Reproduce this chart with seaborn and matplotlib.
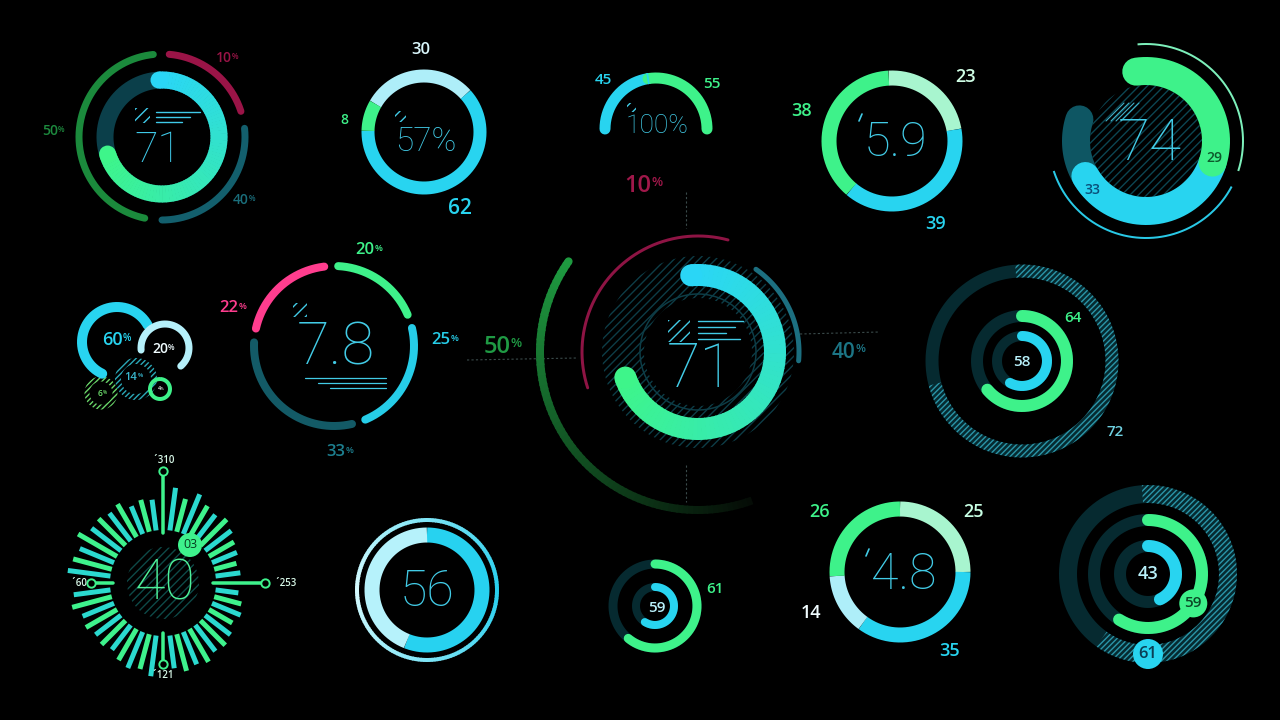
import numpy as np
import seaborn as sns
import matplotlib.pyplot as plt
from matplotlib.patches import Wedge, Circle, Rectangle

# ---- valores ----
anel71_valor = 71
anel71_ext = ["10", "40", "50"]          # magenta, teal, verde
anel71_ext_graus = [67, 96, 162]         # comprimento visível de cada arco externo
anel57 = [30, 62, 8]                     # claro, ciano, verde
anel57_txt = "57%"
meia_lua = [45, 55]                      # ciano, verde
anel59 = [23, 39, 38]                    # menta, ciano, verde
anel59_txt = "5.9"
anel74 = [29, 33, 12]                    # verde, ciano, teal
anel74_txt = "74"
grupo_txt = ["60", "20", "14", "6", "4"]
grupo_arco = [60, 65]                    # preenchimento dos dois arcos maiores (%)
anel78 = [20, 25, 33, 22]                # verde, ciano, teal, rosa
anel78_txt = "7.8"
central_valor = 71
central_txt = ["10", "50", "40"]         # magenta, verde, teal
central_graus = [123, 145, 60]           # comprimento dos arcos magenta, verde, teal
triplo_a = [58, 64, 72]                  # interno, meio, externo
raio_valor = "40"
raio_badge = "03"
raio_picos = [310, 253, 121, 60]         # topo, direita, baixo, esquerda
raio_comp = [96, 87, 96, 89, 86, 90, 86, 82, 80, 76, 78,
             76, 81, 84, 80, 85, 88, 86, 91, 88, 91, 86,
             94, 89, 92, 89, 84, 87, 85, 89, 87, 94, 90,
             96, 93, 90, 98, 90, 91, 88, 91, 83, 86, 84]
anel56 = 56
duplo = [59, 61]                         # interno, externo
anel48 = [25, 35, 14, 26]                # menta, ciano, claro, verde
anel48_txt = "4.8"
triplo_b = [43, 59, 61]                  # interno, meio, externo

# ---- estilo ----
CIANO = "#28d4f0"
VERDE = "#3ef28a"
MENTA = "#a8f5cf"
CLARO = "#aeeef9"
FUNDO = "#062a30"
TXT = "#42cbe6"
FINA = "Roboto"
ROT = "Open Sans"
PX = 0.72  # pontos por pixel com dpi 100

sns.set_theme(style="dark", rc={"figure.facecolor": "black", "axes.facecolor": "black",
                                 "hatch.linewidth": 1.0})
plt.rcParams["font.family"] = ["Open Sans", "DejaVu Sans"]

fig = plt.figure(figsize=(12.8, 7.2), dpi=100)
ax = fig.add_axes([0, 0, 1, 1])
ax.set_xlim(0, 1280)
ax.set_ylim(720, 0)
ax.axis("off")


def ponto(cx, cy, r, a):
    t = np.radians(a)
    return cx + r * np.sin(t), cy - r * np.cos(t)


def arco(cx, cy, r, a0, a1, cor, w, cap="round", z=2):
    n = max(int(abs(a1 - a0)) * 2, 4)
    x, y = ponto(cx, cy, r, np.linspace(a0, a1, n))
    ax.plot(x, y, color=cor, lw=w * PX, solid_capstyle=cap, zorder=z)


def arco_grad(cx, cy, r, a0, a1, c0, c1, w, n=80, pontas=True, z=2):
    cores = sns.blend_palette([c0, c1], n)
    bordas = np.linspace(a0, a1, n + 1)
    for i in range(n):
        arco(cx, cy, r, bordas[i], min(bordas[i + 1] + 0.6, a1), cores[i], w, cap="butt", z=z)
    if pontas:
        for a, c in ((a0, cores[0]), (a1, cores[-1])):
            ax.add_patch(Circle(ponto(cx, cy, r, a), w / 2, color=c, lw=0, zorder=z))


def arco_hach(cx, cy, r, a0, a1, cor, w, hatch="//////", z=1):
    ax.add_patch(Wedge((cx, cy), r + w / 2, a0 - 90, a1 - 90, width=w, facecolor="none",
                       edgecolor=cor, lw=0, hatch=hatch, zorder=z))


def segmentos(vals, inicio, total=360, gap=0):
    v = np.asarray(vals, float)
    larg = (total - gap * len(v)) * v / v.sum()
    ini = inicio + np.concatenate([[0], np.cumsum(larg + gap)[:-1]])
    return list(zip(ini, ini + larg))


def rotulo(x, y, s, cor, tam, pct=False, peso="semibold", z=6):
    t = ax.text(x, y, s, color=cor, fontsize=tam, ha="center", va="center",
                family=ROT, weight=peso, zorder=z)
    if pct:
        ax.annotate("%", xy=(1.0, 0.9), xycoords=t, color=cor, fontsize=tam * 0.55,
                    ha="left", va="top", family=ROT, weight=peso, zorder=z)
    return t


def numero(x, y, s, cor, tam):
    return ax.text(x, y, s, color=cor, fontsize=tam, ha="center", va="center",
                   family=FINA, weight="light", zorder=6)


def icone(x, y, s, cor, linhas=()):
    ax.add_patch(Rectangle((x, y), s, s, facecolor="none", edgecolor=cor, lw=0,
                           hatch="///", zorder=4))
    for x0, x1, yy in linhas:
        ax.plot([x0, x1], [yy, yy], color=cor, lw=1.0, zorder=4)


# ---- 1: anel 71 (superior esquerdo) ----
cx, cy = 162, 137
arco(cx, cy, 57, 0, 360, "#0b3f4a", 17, cap="butt", z=1)
arco_grad(cx, cy, 57, -3, -3 + 3.6 * anel71_valor, "#2ad6f6", "#3ef58a", 17)
cores = ["#9a1447", "#135f6d", "#1b8a3c"]
a = 5
for g, c in zip(anel71_ext_graus, cores):
    arco(cx, cy, 83, a, a + g, c, 7)
    a += g + 12
rotulo(224, 58, anel71_ext[0], "#9a1447", 10, pct=True)
rotulo(241, 200, anel71_ext[1], "#1a6e7b", 10, pct=True)
rotulo(50, 131, anel71_ext[2], "#1d8a3e", 10, pct=True)
icone(135, 108, 15, "#3fc9e8", [(156, 200, 112), (156, 190, 117), (156, 182, 122)])
numero(158, 150, str(anel71_valor), "#3fc9e8", 31)

# ---- 2: anel 57% ----
cx, cy = 424, 132
for (a0, a1), c in zip(segmentos(anel57, -60), [CLARO, CIANO, VERDE]):
    arco(cx, cy, 56, a0, a1, c, 13, cap="butt")
rotulo(421, 50, str(anel57[0]), "#d9f6fb", 12)
rotulo(460, 209, str(anel57[1]), CIANO, 15)
rotulo(344, 120, str(anel57[2]), VERDE, 10)
icone(395, 111, 11, TXT)
numero(426, 142, anel57_txt, TXT, 24)

# ---- 3: meia lua 100% ----
cx, cy = 656, 129
segs = segmentos(meia_lua, -90, total=180)
arco(cx, cy, 51, segs[0][0], segs[0][1], CIANO, 11)
arco(cx, cy, 51, segs[1][0], segs[1][1], VERDE, 11)
arco(cx, cy, 51, segs[0][1] - 1, segs[0][1] + 1, CIANO, 11, cap="butt")
rotulo(603, 80, str(meia_lua[0]), CIANO, 11)
rotulo(712, 84, str(meia_lua[1]), VERDE, 11)
icone(627, 103, 9, TXT)
numero(657, 126, "100%", TXT, 19)

# ---- 4: anel 5.9 ----
cx, cy = 892, 141
for (a0, a1), c in zip(segmentos(anel59, -3), [MENTA, CIANO, VERDE]):
    arco(cx, cy, 63, a0, a1, c, 15, cap="butt")
rotulo(966, 77, str(anel59[0]), "#d0ffe6", 13)
rotulo(936, 224, str(anel59[1]), CIANO, 13)
rotulo(802, 111, str(anel59[2]), VERDE, 13)
ax.plot([859, 862], [121, 114], color=TXT, lw=1.2, zorder=6)
numero(896, 143, anel59_txt, TXT, 35)

# ---- 5: anel 74 ----
cx, cy = 1146, 141
ax.add_patch(Circle((cx, cy), 56, facecolor="none", edgecolor="#0c4652", lw=0,
                    hatch="////", zorder=1))
segs = segmentos(anel74, -8, total=4 * sum(anel74))
arco(cx, cy, 70, segs[2][0] - 10, segs[2][1], "#0e5663", 28)
arco(cx, cy, 70, segs[1][0], segs[1][1], CIANO, 28)
arco(cx, cy, 70, segs[0][0], segs[0][1], VERDE, 28)
arco(cx, cy, 97, -5, 108, "#7df0bb", 2, cap="butt")
arco(cx, cy, 97, 118, 252, "#29c9e6", 2, cap="butt")
for k in range(4):
    ax.plot([1106 + 5 * k, 1124 + 5 * k], [121, 103], color="#3fb0c8", lw=0.8, zorder=3)
rotulo(1214, 158, str(anel74[0]), "#0d5a2c", 10)
rotulo(1092, 190, str(anel74[1]), "#0a4f7a", 10)
numero(1150, 145, anel74_txt, TXT, 42)

# ---- 6: grupo de aneis pequenos ----
arco(117, 342, 35, 205, 205 + 3.6 * grupo_arco[0], CIANO, 10)
rotulo(112, 340, grupo_txt[0], CIANO, 13, pct=True)
arco(165, 348, 24, 265, 265 + 3.6 * grupo_arco[1], "#b5f0fa", 7)
rotulo(160, 349, grupo_txt[1], "#f0fcff", 10, pct=True)
arco_hach(136, 379, 18, 0, 360, "#2aa8b8", 6, hatch="//////")
rotulo(131, 377, grupo_txt[2], "#39b9d0", 8, pct=True)
arco_hach(101, 393, 14, 0, 360, "#6ad66a", 5, hatch="//////")
rotulo(100, 394, grupo_txt[3], "#6ee06e", 6, pct=True)
arco(160, 389, 10, 0, 360, VERDE, 4, cap="butt")
rotulo(159, 389, grupo_txt[4], "#f0fff4", 4, pct=True)

# ---- 7: anel 7.8 ----
cx, cy = 334, 346
cores = [VERDE, "#26cde8", "#135a66", "#ff3d8e"]
for (a0, a1), c in zip(segmentos(anel78, 3, gap=10), cores):
    arco(cx, cy, 80, a0, a1, c, 8)
rotulo(365, 250, str(anel78[0]), VERDE, 12, pct=True)
rotulo(441, 340, str(anel78[1]), "#26cde8", 12, pct=True)
rotulo(336, 452, str(anel78[2]), "#1d7f8f", 12, pct=True)
rotulo(229, 308, str(anel78[3]), "#ff3d8e", 12, pct=True)
icone(293, 303, 14, TXT)
for x0, yy in [(305, 378), (318, 383), (330, 388)]:
    ax.plot([x0, 386], [yy, yy], color=TXT, lw=0.9, zorder=4)
numero(336, 348, anel78_txt, TXT, 43)

# ---- 8: grafico central ----
cx, cy = 698, 352
for xs, ys in [([686, 686], [192, 228]), ([686, 686], [465, 502]),
               ([467, 577], [360, 358]), ([800, 880], [334, 332])]:
    ax.plot(xs, ys, color="#3a4a4a", lw=0.8, ls=(0, (2, 2)), zorder=0)
ax.add_patch(Wedge((cx, cy), 96, 0, 360, width=42, facecolor="none", edgecolor="#0d3d47",
                   lw=0, hatch="////", zorder=1))
arco(cx, cy, 58, 0, 360, "#0d3d47", 1.5, cap="butt", z=1)
arco_grad(cx, cy, 158, 160, 160 + central_graus[1], "#050c06", "#1e9a40", 8, pontas=False)
ax.add_patch(Circle(ponto(cx, cy, 158, 160 + central_graus[1]), 4, color="#1e9a40", lw=0))
arco(cx, cy, 116, 252, 252 + central_graus[0], "#8e1444", 3)
arco(cx, cy, 101, 35, 35 + central_graus[2], "#1c6f80", 5)
arco_grad(cx, cy, 77, -5, -5 + 3.6 * central_valor, "#2ad6f6", "#3ef58a", 22)
rotulo(638, 186, central_txt[0], "#a0184a", 17, pct=True)
rotulo(497, 347, central_txt[1], "#1f9a44", 17, pct=True)
rotulo(844, 352, central_txt[2], "#1c7585", 15, pct=True)
icone(668, 320, 22, TXT, [(698, 743, 321), (698, 735, 327), (698, 726, 333), (698, 740, 339)])
numero(700, 370, str(central_valor), TXT, 44)

# ---- 9: aneis concentricos 58/64/72 ----
cx, cy = 1022, 361
for r, w in [(90, 13), (45, 12), (25, 10)]:
    arco(cx, cy, r, 0, 360, FUNDO, w, cap="butt", z=1)
arco_hach(cx, cy, 90, -4, -4 + 3.6 * triplo_a[2], "#2b95a8", 13)
arco(cx, cy, 45, 0, 3.6 * triplo_a[1], VERDE, 12)
arco(cx, cy, 25, 0, 3.6 * triplo_a[0], CIANO, 10)
rotulo(1073, 318, str(triplo_a[1]), VERDE, 11)
rotulo(1115, 432, str(triplo_a[2]), "#6fd0e0", 11)
rotulo(1022, 362, str(triplo_a[0]), "#b8f0fa", 11)

# ---- 10: explosao radial 40 ----
cx, cy = 163, 583
ax.add_patch(Circle((cx, cy), 36, facecolor="none", edgecolor="#0e4a48", lw=0,
                    hatch="////", zorder=1))
pal = sns.blend_palette(["#3ef28c", "#2bd9cf"], 2)
k = 0
for i in range(48):
    if i % 12 == 0:
        continue
    x, y = ponto(cx, cy, np.array([53, raio_comp[k]]), i * 7.5)
    ax.plot(x, y, color=pal[i % 2], lw=5 * PX, solid_capstyle="butt", zorder=2)
    k += 1
desloc = [11, 20, 11, 13]
for j, v in enumerate(raio_picos):
    a = 90 * j
    r1 = 62 + 0.16 * v
    x, y = ponto(cx, cy, np.array([50, r1]), a)
    ax.plot(x, y, color="#3ef28c", lw=3.5 * PX, zorder=2)
    ax.plot(x[1], y[1], "o", ms=6, mfc="black", mec="#3ef28c", mew=1.4, zorder=3)
    lx, ly = ponto(cx, cy, r1 + desloc[j], a)
    rotulo(lx, ly, "\u00b4" + str(v), "#d8f8e8", 7)
ax.add_patch(Circle((190, 545), 12, color="#3ef28c", lw=0, zorder=4))
rotulo(190, 545, raio_badge, "#063d1e", 9, peso="normal")
numero(165, 584, raio_valor, "#4ef29a", 40)

# ---- 11: anel 56 ----
cx, cy = 427, 590
arco_grad(cx, cy, 70, -90, 90, "#d6fbff", "#27cfee", 4, pontas=False)
arco_grad(cx, cy, 70, 90, 270, "#27cfee", "#d6fbff", 4, pontas=False)
a1 = 3.6 * anel56
arco(cx, cy, 55, 0, a1, "#27d2f0", 15, cap="butt")
arco(cx, cy, 55, a1, 360, "#b6f2fb", 15, cap="butt")
numero(cx, cy + 2, str(anel56), TXT, 36)

# ---- 12: duplo 59/61 ----
cx, cy = 655, 606
arco(cx, cy, 42, 0, 360, FUNDO, 9, cap="butt", z=1)
arco(cx, cy, 19, 0, 360, FUNDO, 8, cap="butt", z=1)
arco(cx, cy, 42, 0, 3.6 * duplo[1], VERDE, 9)
arco(cx, cy, 19, 0, 3.6 * duplo[0], CIANO, 8)
rotulo(715, 589, str(duplo[1]), VERDE, 11)
rotulo(657, 608, str(duplo[0]), "#b8f0fa", 11)

# ---- 13: anel 4.8 ----
cx, cy = 900, 572
for (a0, a1), c in zip(segmentos(anel48, 0), [MENTA, CIANO, CLARO, VERDE]):
    arco(cx, cy, 63, a0, a1, c, 15, cap="butt")
rotulo(973, 512, str(anel48[0]), "#c8ffe4", 13)
rotulo(950, 651, str(anel48[1]), CIANO, 13)
rotulo(811, 613, str(anel48[2]), "#f0fcff", 13)
rotulo(820, 512, str(anel48[3]), VERDE, 13)
ax.plot([866, 869], [556, 549], color=TXT, lw=1.2, zorder=6)
numero(904, 575, anel48_txt, TXT, 36)

# ---- 14: aneis concentricos 43/59/61 ----
cx, cy = 1148, 574
for r, w in [(80, 18), (54, 12), (28, 12)]:
    arco(cx, cy, r, 0, 360, FUNDO, w, cap="butt", z=1)
arco_hach(cx, cy, 80, -4, -4 + 3.6 * triplo_b[2], "#2b95a8", 18)
arco(cx, cy, 54, 0, 3.6 * triplo_b[1], VERDE, 12)
arco(cx, cy, 28, 0, 3.6 * triplo_b[0], CIANO, 12)
bx, by = ponto(cx, cy, 80, 180)
ax.add_patch(Circle((bx, by), 15, color=CIANO, lw=0, zorder=4))
rotulo(bx, by, str(triplo_b[2]), "#0a3f55", 12)
bx, by = ponto(cx, cy, 54, 123)
ax.add_patch(Circle((bx, by), 14, color=VERDE, lw=0, zorder=4))
rotulo(bx, by, str(triplo_b[1]), "#0b4a26", 11)
rotulo(cx, cy, str(triplo_b[0]), "#b8f0fa", 13)

plt.savefig("out.png", dpi=100, facecolor="black")
